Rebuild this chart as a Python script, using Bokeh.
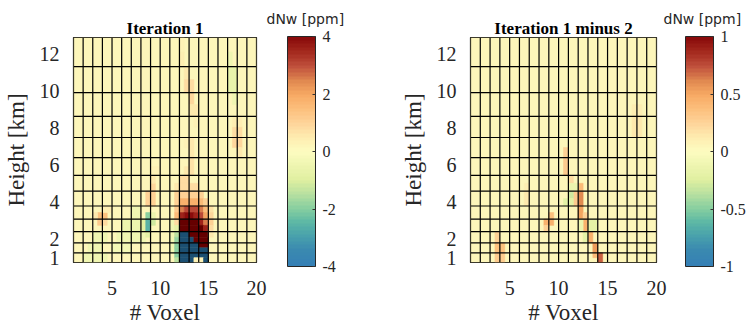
from bokeh.plotting import figure
from bokeh.models import (Range1d, FixedTicker, LinearColorMapper, ColorBar, ColumnDataSource,
                          CustomJSTickFormatter, Title)
from bokeh.layouts import row
from bokeh.embed import file_html
from bokeh.resources import INLINE

# ---------------- data ----------------
voxel_edges = list(range(1, 21))            # voxel columns 1..19, edges 1..20
layer_edges = [0.74, 1.26, 1.80, 2.41, 3.08, 3.79, 4.59, 5.44, 6.40,
               7.49, 8.63, 9.91, 11.32, 12.89]  # height layer edges [km]
x_ticks = [5, 10, 15, 20]
y_ticks = [1, 2, 4, 6, 8, 10, 12]
iter1_ticks = [-4, -2, 0, 2, 4]
diff_ticks = [-1, -0.5, 0, 0.5, 1]
iter1_range = (-4, 4)
diff_range = (-1, 1)
iter1_base = 0.15
diff_base = 0.05

# cells: (voxel x from, voxel x to, layer index, part of layer: l=lower half, u=upper half, f=full, dNw)
iter1_cells = [
    (12.0, 12.5, 12, 'l', 0.4), (12.0, 12.5, 12, 'u', 0.25),
    (12.5, 13.0, 11, 'u', 0.6), (12.5, 13.5, 11, 'l', 0.8),
    (13.0, 13.5, 10, 'u', 0.9), (13.0, 14.0, 10, 'l', 0.6),
    (13.5, 14.0, 9, 'u', 0.35),
    (12.5, 13.0, 8, 'u', 0.35), (13.0, 13.5, 8, 'f', 0.6),
    (13.0, 13.5, 7, 'f', 0.7), (12.5, 13.0, 7, 'l', 0.6),
    (12.0, 13.0, 6, 'f', 0.8), (11.5, 12.0, 6, 'l', 0.5),
    (8.5, 9.5, 5, 'f', 1.0), (9.0, 9.5, 6, 'l', 0.9), (9.0, 9.5, 6, 'u', 0.5), (9.0, 10.0, 7, 'l', 0.35),
    (3.5, 4.5, 4, 'l', 1.4), (3.5, 4.0, 3, 'u', 1.2), (4.0, 4.5, 3, 'u', 0.8),
    (3.0, 3.5, 4, 'l', 0.6), (4.0, 5.0, 4, 'u', 0.4),
    (2.0, 4.5, 0, 'f', -0.4), (2.5, 4.0, 1, 'f', -0.5), (3.0, 4.5, 2, 'f', -0.4),
    (5.5, 7.5, 2, 'f', -0.4), (6.0, 8.0, 3, 'f', -0.6), (7.0, 8.0, 4, 'f', -0.5),
    (5.0, 7.0, 1, 'f', -0.3), (7.0, 8.5, 2, 'f', -0.5),
    (8.0, 8.5, 3, 'f', -1.0), (8.5, 9.0, 4, 'l', -2.0), (8.5, 9.0, 3, 'f', -2.6),
    (9.0, 9.5, 3, 'u', -1.2), (8.5, 9.0, 2, 'u', -0.8), (9.0, 9.5, 4, 'l', -0.6),
    (11.0, 11.5, 1, 'f', -0.5), (11.0, 11.5, 2, 'f', -0.5), (11.0, 11.5, 3, 'f', -0.4),
    (11.5, 14.5, 5, 'u', 1.0), (11.5, 12.0, 5, 'l', 1.0), (12.0, 14.0, 5, 'l', 1.8),
    (14.0, 14.5, 5, 'l', 1.6), (14.5, 15.0, 5, 'l', 1.0), (12.0, 14.0, 6, 'l', 0.8),
    (11.5, 12.0, 4, 'u', 1.2), (12.0, 12.5, 4, 'u', 2.5), (12.5, 14.0, 4, 'u', 3.0),
    (14.0, 14.5, 4, 'u', 2.5), (14.5, 15.0, 4, 'u', 1.5), (15.0, 15.5, 4, 'u', 0.7),
    (11.5, 12.0, 4, 'l', 1.5), (12.0, 12.5, 4, 'l', 3.5), (12.5, 13.5, 4, 'l', 4.0),
    (13.5, 14.0, 4, 'l', 3.6), (14.0, 14.5, 4, 'l', 3.0), (14.5, 15.0, 4, 'l', 2.0), (15.0, 15.5, 4, 'l', 0.9),
    (11.5, 12.0, 3, 'u', 0.8), (12.0, 14.0, 3, 'u', 4.6), (14.0, 14.5, 3, 'u', 3.6),
    (14.5, 15.0, 3, 'u', 2.5), (15.0, 15.5, 3, 'u', 1.0),
    (11.5, 12.0, 3, 'l', -0.8), (12.0, 14.5, 3, 'l', 4.6), (14.5, 15.0, 3, 'l', 3.5), (15.0, 15.5, 3, 'l', 0.8),
    (11.5, 12.0, 2, 'u', -1.5), (12.0, 13.0, 2, 'u', -4.6), (13.0, 15.0, 2, 'u', 4.6), (15.0, 15.5, 2, 'u', 0.5),
    (11.5, 12.0, 2, 'l', -1.8), (12.0, 13.5, 2, 'l', -4.6), (13.5, 15.0, 2, 'l', 4.6),
    (11.5, 12.0, 1, 'u', -2.0), (12.0, 14.0, 1, 'u', -4.6), (14.0, 15.0, 1, 'u', 4.6),
    (11.5, 12.0, 1, 'l', -2.0), (12.0, 15.0, 1, 'l', -4.6),
    (11.5, 12.0, 0, 'u', -2.0), (12.0, 15.0, 0, 'u', -4.6),
    (11.5, 12.0, 0, 'l', -1.5), (12.0, 13.5, 0, 'l', -4.6), (13.5, 14.5, 0, 'l', 0.3), (14.5, 15.0, 0, 'l', -4.6),
    (17.0, 18.0, 11, 'f', -0.7), (17.0, 17.5, 12, 'l', -0.4), (17.5, 18.0, 10, 'u', -0.4),
    (17.5, 18.5, 9, 'l', 0.8), (17.5, 18.5, 8, 'u', 0.9), (17.5, 18.5, 9, 'u', 0.4), (18.0, 18.5, 8, 'l', 0.5),
]

diff_cells = [
    (12.0, 12.5, 5, 'f', 0.6), (11.5, 12.0, 5, 'f', 0.3), (12.0, 12.5, 6, 'l', 0.4),
    (10.5, 11.0, 7, 'f', 0.3), (10.5, 11.0, 8, 'l', 0.25), (11.0, 11.5, 6, 'u', 0.2),
    (11.0, 11.5, 5, 'u', -0.3), (10.5, 11.5, 5, 'l', -0.2), (11.0, 12.0, 6, 'l', -0.15),
    (12.0, 12.5, 4, 'f', 0.5), (12.5, 13.0, 4, 'l', 0.25), (12.5, 13.0, 3, 'f', 0.45),
    (13.0, 13.5, 2, 'f', 0.45), (13.5, 14.0, 1, 'f', 0.55), (14.0, 14.5, 0, 'f', 0.7),
    (13.5, 14.0, 0, 'u', 0.4),
    (13.0, 14.0, 3, 'f', -0.2), (12.0, 12.5, 3, 'f', -0.15), (12.5, 13.0, 2, 'f', -0.2),
    (8.5, 9.5, 3, 'u', 0.45), (9.0, 9.5, 4, 'l', 0.35), (8.5, 9.0, 3, 'l', 0.25),
    (3.5, 4.5, 0, 'f', 0.3), (3.5, 4.5, 1, 'f', 0.35), (3.5, 4.0, 2, 'f', 0.25),
    (6.5, 7.0, 5, 'f', 0.15), (6.5, 7.0, 6, 'l', 0.12),
    (17.5, 18.5, 9, 'f', 0.15), (17.5, 18.5, 10, 'l', 0.12),
]

# ---------------- style ----------------
anchor_colors = ["#3580b5", "#3a89b0", "#48a0ac", "#5db8a5", "#88cfa0", "#b8e0a0",
                 "#e0f0a0", "#eef5b0", "#fdfcc0", "#feecb0", "#fed49a", "#fcbf7c",
                 "#f8aa64", "#e08850", "#c0503c", "#a52a1f", "#8a0b0b"]


def hex2rgb(h):
    return tuple(int(h[i:i + 2], 16) for i in (1, 3, 5))


def build_palette(n):
    rgb = [hex2rgb(c) for c in anchor_colors]
    out = []
    for k in range(n):
        t = k / (n - 1) * (len(rgb) - 1)
        i = min(int(t), len(rgb) - 2)
        f = t - i
        c = tuple(round(rgb[i][j] + (rgb[i + 1][j] - rgb[i][j]) * f) for j in range(3))
        out.append("#%02x%02x%02x" % c)
    return out


palette = build_palette(64)
SERIF = "Liberation Serif"


def make_panel(title, cells, base, ticks, vrange, width, border_left, cb_offset):
    y0, y1 = layer_edges[0], layer_edges[-1]
    frame_w = 186
    p = figure(width=width, height=327, x_range=Range1d(voxel_edges[0], voxel_edges[-1]),
               y_range=Range1d(y0, y1), output_backend="svg", toolbar_location=None,
               min_border_left=border_left, min_border_right=width - border_left - frame_w,
               min_border_top=37, min_border_bottom=61)
    mapper = LinearColorMapper(palette=palette, low=vrange[0], high=vrange[1],
                               low_color="#1b4f72", high_color="#650000")

    # base voxels
    L, R, B, T, V = [], [], [], [], []
    for i in range(len(voxel_edges) - 1):
        for j in range(len(layer_edges) - 1):
            L.append(voxel_edges[i]); R.append(voxel_edges[i + 1])
            B.append(layer_edges[j]); T.append(layer_edges[j + 1]); V.append(base)
    for (xa, xb, lay, part, v) in cells:
        lo, hi = layer_edges[lay], layer_edges[lay + 1]
        mid = (lo + hi) / 2
        if part == 'l':
            b, t = lo, mid
        elif part == 'u':
            b, t = mid, hi
        else:
            b, t = lo, hi
        L.append(xa); R.append(xb); B.append(b); T.append(t); V.append(v)
    src = ColumnDataSource(dict(left=L, right=R, bottom=B, top=T, v=V))
    p.quad(left='left', right='right', bottom='bottom', top='top', source=src,
           fill_color={'field': 'v', 'transform': mapper},
           line_color={'field': 'v', 'transform': mapper}, line_width=0.6)

    # voxel grid
    p.segment(x0=voxel_edges, x1=voxel_edges, y0=[y0] * len(voxel_edges), y1=[y1] * len(voxel_edges),
              line_color="black", line_width=1.2)
    p.segment(x0=[voxel_edges[0]] * len(layer_edges), x1=[voxel_edges[-1]] * len(layer_edges),
              y0=layer_edges, y1=layer_edges, line_color="black", line_width=1.2)

    p.grid.visible = False
    p.outline_line_color = "black"
    p.outline_line_width = 1.2
    p.xaxis.ticker = FixedTicker(ticks=x_ticks)
    p.yaxis.ticker = FixedTicker(ticks=y_ticks)
    for ax in (p.xaxis[0], p.yaxis[0]):
        ax.axis_line_color = None
        ax.major_tick_line_color = None
        ax.minor_tick_line_color = None
        ax.major_label_text_font = SERIF
        ax.major_label_text_font_size = "20px"
        ax.major_label_text_color = "#262626"
        ax.axis_label_text_font = SERIF
        ax.axis_label_text_font_size = "23px"
        ax.axis_label_text_font_style = "normal"
        ax.axis_label_text_color = "#262626"
    p.xaxis.axis_label = "# Voxel"
    p.yaxis.axis_label = "Height [km]"
    p.xaxis.major_label_standoff = 12
    p.xaxis.axis_label_standoff = 2
    p.yaxis.major_label_standoff = 8
    p.yaxis.axis_label_standoff = 8

    # outer title: colour bar unit
    p.title.text = "dNw [ppm]"
    p.title.align = "left"
    p.title.offset = 193
    p.title.standoff = -20
    p.title.text_font = "DejaVu Sans"
    p.title.text_font_size = "14px"
    p.title.text_font_style = "normal"
    p.title.text_color = "#262626"
    # inner title: panel title
    p.add_layout(Title(text=title, align="center", standoff=0, text_font=SERIF,
                       text_font_size="17px", text_font_style="bold", text_color="black"), "above")

    cb = ColorBar(color_mapper=mapper, ticker=FixedTicker(ticks=ticks), width=28, height=230,
                  location=(cb_offset, -4), padding=0, margin=0, bar_line_color="#262626",
                  major_tick_line_color="#333333", major_tick_in=3, major_tick_out=0,
                  minor_tick_line_color=None, label_standoff=7,
                  formatter=CustomJSTickFormatter(code="return tick.toString()"),
                  major_label_text_font=SERIF, major_label_text_font_size="16px",
                  major_label_text_color="#262626",
                  background_fill_color=None, border_line_color=None)
    p.add_layout(cb)
    return p


p1 = make_panel("Iteration 1", iter1_cells, iter1_base, iter1_ticks, iter1_range, 378, 70, 214)
p2 = make_panel("Iteration 1 minus 2", diff_cells, diff_base, diff_ticks, diff_range, 377, 92, 215)

layout = row(p1, p2)
open("out.html", "w").write(file_html(layout, INLINE))
